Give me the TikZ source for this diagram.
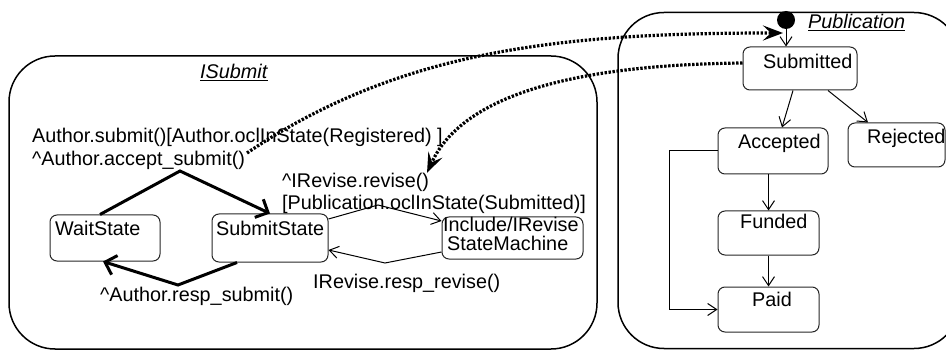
\documentclass[tikz,border=0pt]{standalone}
\usepackage{fontspec}
\setmainfont{Liberation Sans}
\usetikzlibrary{arrows.meta}
\begin{document}
\begin{tikzpicture}[x=1pt,y=-1pt,
  font=\fontsize{19.8}{23}\selectfont,
  container/.style={draw, line width=1.5pt, rounded corners=46pt, inner sep=0},
  sbox/.style={draw=black!85, line width=1pt, rounded corners=7pt, inner sep=0},
  txt/.style={anchor=base west, inner sep=0},
  thinarrow/.style={line width=1pt, -{Straight Barb[length=9pt,width=12pt]}},
  thickarrow/.style={line width=3pt, -{Straight Barb[length=10pt,width=20pt]}},
  dotarrow/.style={line width=3.2pt, dash pattern=on 2.4pt off 1.6pt, -{Stealth[length=20pt,width=15pt,inset=8pt]}}
]
\useasboundingbox (0,0) rectangle (946,350);

% containers
\node[container, minimum width=588pt, minimum height=293pt] (isub) at (303,202.5) {};
\node[container, minimum width=342pt, minimum height=336pt] (pub) at (789,180.5) {};
\node[txt] (isubT) at (200,79) {\underline{\textit{ISubmit}}};
\node[txt] (pubT) at (808,29) {\underline{\textit{Publication}}};

% left states
\node[sbox, minimum width=110pt, minimum height=46pt] (wait) at (105,238) {};
\node[sbox, minimum width=116pt, minimum height=48pt] (ss) at (270,238) {};
\node[sbox, minimum width=141pt, minimum height=42pt] (inc) at (512.5,238) {};
\node[txt] (waitT) at (55,236) {WaitState};
\node[txt] (ssT) at (216,236) {SubmitState};
\node[txt] (incT1) at (443,231.5) {Include/IRevise};
\node[txt] (incT2) at (447,250.5) {StateMachine};

% right states
\node[sbox, minimum width=114pt, minimum height=43pt] (sub) at (800,68.5) {};
\node[sbox, minimum width=110pt, minimum height=46pt] (acc) at (773,151) {};
\node[sbox, minimum width=97pt, minimum height=44pt] (rej) at (896.5,145) {};
\node[sbox, minimum width=101pt, minimum height=44pt] (fun) at (768.5,233) {};
\node[sbox, minimum width=101pt, minimum height=45pt] (paid) at (768.5,309.5) {};
\node[txt] (subT) at (763,69) {Submitted};
\node[txt] (accT) at (738,149) {Accepted};
\node[txt] (rejT) at (867,144) {Rejected};
\node[txt] (funT) at (740,229) {Funded};
\node[txt] (paidT) at (752,306) {Paid};

% initial state
\node[circle, fill=black, inner sep=0, minimum size=18pt] (init) at (786,20) {};

% labels
\node[txt] (l1) at (32,143) {Author.submit()[Author.oclInState(Registered) ]};
\node[txt] (l2) at (32,166) {\^{}Author.accept\_submit()};
\node[txt] (l3) at (282,188) {\^{}IRevise.revise()};
\node[txt] (l4) at (282,210) {[Publication.oclInState(Submitted)]};
\node[txt] (l5) at (100,301) {\^{}Author.resp\_submit()};
\node[txt] (l6) at (313,288) {IRevise.resp\_revise()};

% bend points
\coordinate (b1) at (180,171);
\coordinate (b2) at (178,285);
\coordinate (b3) at (378,205);
\coordinate (b4) at (385,263);
\coordinate (b5) at (669,151);
\coordinate (b6) at (669,309.5);
\coordinate (d1) at (247,153);
\coordinate (d1end) at (783,33);
\coordinate (d2end) at (427,173);

% thick transitions
\draw[thickarrow] ([xshift=-5pt]wait.north) -- (b1) -- (ss.north);
\draw[thickarrow] ([xshift=-33pt]ss.south) -- (b2) -- ([xshift=-2pt]wait.south);

% thin transitions (left)
\draw[thinarrow] ([yshift=19pt]ss.east) -- (b3) -- ([yshift=17pt]inc.west);
\draw[thinarrow] ([yshift=-14pt]inc.west) -- (b4) -- ([yshift=-12pt]ss.east);

% right transitions
\draw[thinarrow] (init.south) -- (init.south |- sub.north);
\draw[thinarrow] ([xshift=-7pt]sub.south) -- ([xshift=9pt]acc.north);
\draw[thinarrow] ([xshift=28pt]sub.south) -- ([xshift=-28.5pt]rej.north);
\draw[thinarrow] (fun.north |- acc.south) -- (fun.north);
\draw[thinarrow] (fun.south) -- (paid.north);
\draw[thinarrow] (acc.west) -- (b5) -- (b6) -- (paid.west);

% dotted connectors
\draw[dotarrow] (d1) .. controls (400,50) and (560,33) .. (d1end);
\draw[dotarrow] ([yshift=5.5pt]sub.west) .. controls (560,65) and (460,100) .. (d2end);
\end{tikzpicture}
\end{document}
